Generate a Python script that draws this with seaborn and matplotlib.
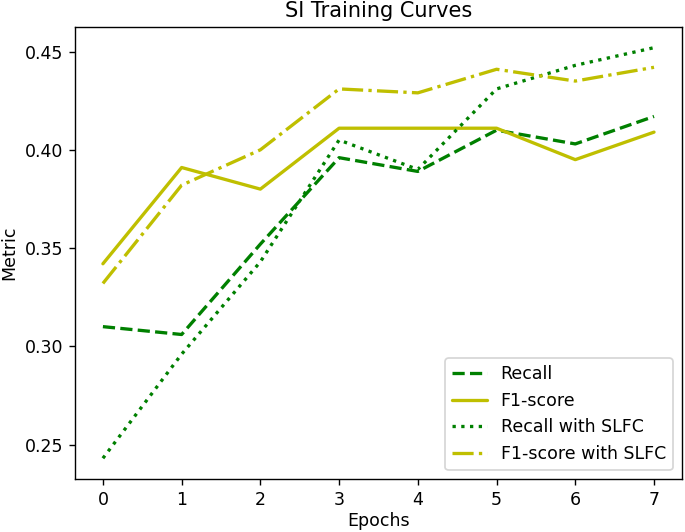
import matplotlib
matplotlib.use("Agg")
import matplotlib.pyplot as plt
import seaborn as sns
import pandas as pd

# valores
epochs = [0, 1, 2, 3, 4, 5, 6, 7]
recall = [0.310, 0.306, 0.352, 0.396, 0.389, 0.410, 0.403, 0.417]
f1_score = [0.342, 0.391, 0.380, 0.411, 0.411, 0.411, 0.395, 0.409]
recall_slfc = [0.243, 0.296, 0.343, 0.405, 0.390, 0.431, 0.443, 0.452]
f1_slfc = [0.332, 0.382, 0.400, 0.431, 0.429, 0.441, 0.435, 0.442]

series = [
    ("Recall", recall, "g", "--"),
    ("F1-score", f1_score, "y", "-"),
    ("Recall with SLFC", recall_slfc, "g", ":"),
    ("F1-score with SLFC", f1_slfc, "y", "-."),
]

sns.set_style("ticks", {
    "axes.edgecolor": "black",
    "text.color": "black",
    "axes.labelcolor": "black",
    "xtick.color": "black",
    "ytick.color": "black",
    "xtick.major.size": 3.5,
    "ytick.major.size": 3.5,
})
plt.rcParams['font.family'] = ['DejaVu Sans']

# 685x532 px a 125 dpi
fig, ax = plt.subplots(figsize=(5.48, 4.256), dpi=125)
plt.subplots_adjust(left=0.11, right=0.995, top=0.949, bottom=0.1)

for nome, valores, cor, estilo in series:
    df = pd.DataFrame({"Epochs": epochs, "Metric": valores})
    sns.lineplot(ax=ax, data=df, x="Epochs", y="Metric", color=cor,
                 linestyle=estilo, linewidth=1.9, label=nome)

ax.set_title("SI Training Curves", fontsize=12)
ax.set_xlabel("Epochs", fontsize=10, labelpad=1.5)
ax.set_ylabel("Metric", fontsize=10)
ax.set_xticks(epochs)
ax.set_yticks([0.25, 0.30, 0.35, 0.40, 0.45])
ax.tick_params(labelsize=10, length=3.5, pad=3.5)
ax.legend(loc="lower right", fontsize=10)

fig.savefig("out.png", dpi=125)
